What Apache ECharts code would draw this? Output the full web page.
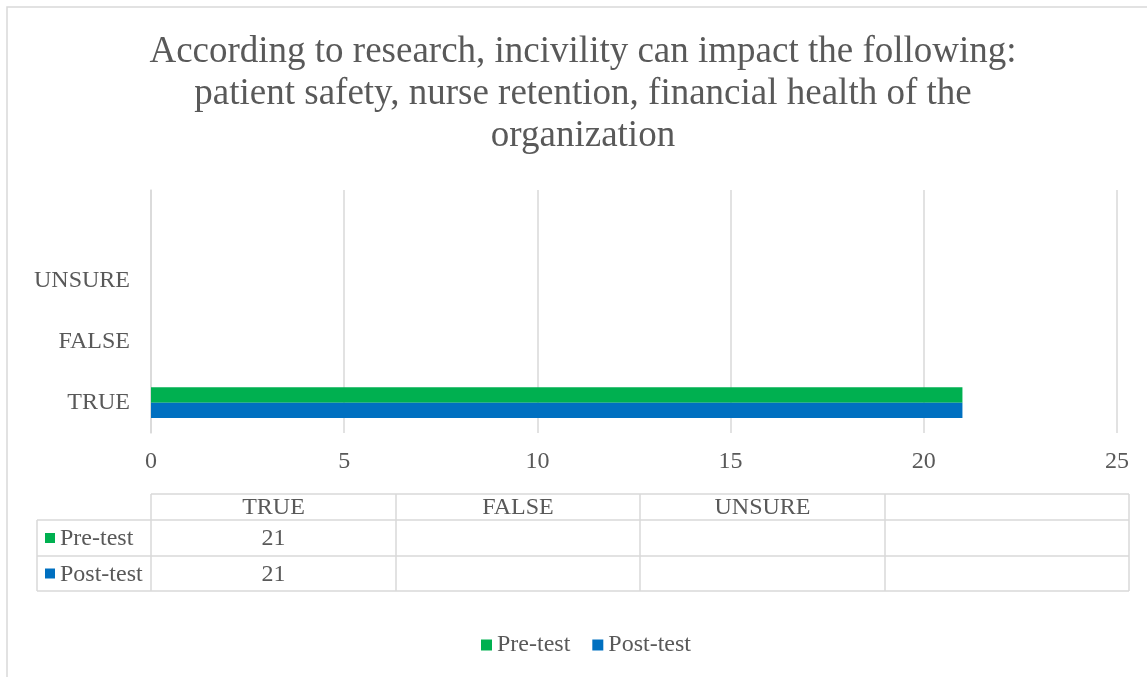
<!DOCTYPE html>
<html>
<head>
<meta charset="utf-8">
<script src="https://cdn.jsdelivr.net/npm/echarts@6/dist/echarts.min.js"></script>
<style>
  html, body { margin: 0; padding: 0; background: #fff; }
  #main { width: 1147px; height: 677px; }
</style>
</head>
<body>
<div id="main"></div>
<script>
// data
const categories = ['TRUE', 'FALSE', 'UNSURE', '']
const seriesNames = ['Pre-test', 'Post-test']
const preTest = [21, null, null, null]
const postTest = [21, null, null, null]
const colors = ['#00B050', '#0070C0']

const FONT = '"Liberation Serif", "Times New Roman", serif'
const TXT = '#595959'
const LINE = '#d9d9d9'
const FS = 24

const myChart = echarts.init(document.getElementById('main'))

// data table under the chart
const buildTable = () => {
  const left = 37
  const colX = [151, 396, 640, 885, 1129]
  const rowY = [494, 520, 556, 591]
  const els = []
  const line = (x1, y1, x2, y2) => ({
    type: 'line',
    shape: { x1, y1, x2, y2 },
    style: { stroke: LINE, lineWidth: 1.5 }
  })
  // horizontal lines
  els.push(line(colX[0], rowY[0], colX[4], rowY[0]))
  for (let i = 1; i < rowY.length; i++) els.push(line(left, rowY[i], colX[4], rowY[i]))
  // vertical lines
  els.push(line(left, rowY[1], left, rowY[3]))
  colX.forEach(x => els.push(line(x, rowY[0], x, rowY[3])))
  // header
  categories.forEach((c, i) => {
    els.push({
      type: 'text',
      style: {
        text: c, x: (colX[i] + colX[i + 1]) / 2, y: (rowY[0] + rowY[1]) / 2 + 1,
        align: 'center', verticalAlign: 'middle', font: FS + 'px ' + FONT, fill: TXT
      }
    })
  })
  // rows
  const rows = [preTest, postTest]
  rows.forEach((vals, r) => {
    const cy = (rowY[r + 1] + rowY[r + 2]) / 2
    els.push({
      type: 'rect',
      shape: { x: 45, y: cy - 5, width: 10, height: 10 },
      style: { fill: colors[r] }
    })
    els.push({
      type: 'text',
      style: {
        text: seriesNames[r], x: 60, y: cy + 1,
        align: 'left', verticalAlign: 'middle', font: FS + 'px ' + FONT, fill: TXT
      }
    })
    vals.forEach((v, i) => {
      if (v == null) return
      els.push({
        type: 'text',
        style: {
          text: String(v), x: (colX[i] + colX[i + 1]) / 2, y: cy + 1,
          align: 'center', verticalAlign: 'middle', font: FS + 'px ' + FONT, fill: TXT
        }
      })
    })
  })
  return els
}

const option = {
  backgroundColor: '#fff',
  animation: false,
  title: {
    text: 'According to research, incivility can impact the following:\npatient safety, nurse retention, financial health of the\norganization',
    left: 583,
    top: 31,
    padding: 0,
    textAlign: 'center',
    textStyle: {
      fontFamily: FONT,
      fontSize: 37,
      fontWeight: 'normal',
      color: TXT,
      lineHeight: 42
    }
  },
  legend: {
    data: seriesNames,
    left: 476,
    top: 628,
    icon: 'rect',
    itemWidth: 11,
    itemHeight: 11,
    itemGap: 22,
    textStyle: { fontFamily: FONT, fontSize: FS, color: TXT }
  },
  grid: {
    left: 151,
    right: 30,
    top: 190,
    bottom: 244,
    containLabel: false
  },
  xAxis: {
    type: 'value',
    min: 0,
    max: 25,
    interval: 5,
    axisLine: { show: false },
    axisTick: { show: false },
    splitLine: { lineStyle: { color: LINE, width: 1.5 } },
    axisLabel: { fontFamily: FONT, fontSize: FS, color: TXT, margin: 17 }
  },
  yAxis: {
    type: 'category',
    data: categories,
    axisLine: { lineStyle: { color: LINE, width: 1.5 } },
    axisTick: { show: false },
    axisLabel: { fontFamily: FONT, fontSize: FS, color: TXT, margin: 21 }
  },
  series: [
    {
      name: 'Pre-test',
      type: 'bar',
      data: preTest,
      itemStyle: { color: colors[0] },
      barGap: '0%',
      barCategoryGap: '49%'
    },
    {
      name: 'Post-test',
      type: 'bar',
      data: postTest,
      itemStyle: { color: colors[1] },
      barGap: '0%',
      barCategoryGap: '49%'
    }
  ],
  graphic: [
    {
      type: 'rect',
      shape: { x: 7, y: 7, width: 1160, height: 700 },
      style: { fill: 'none', stroke: LINE, lineWidth: 1.5 },
      silent: true
    },
    ...buildTable()
  ]
}
myChart.setOption(option)
</script>
</body>
</html>
